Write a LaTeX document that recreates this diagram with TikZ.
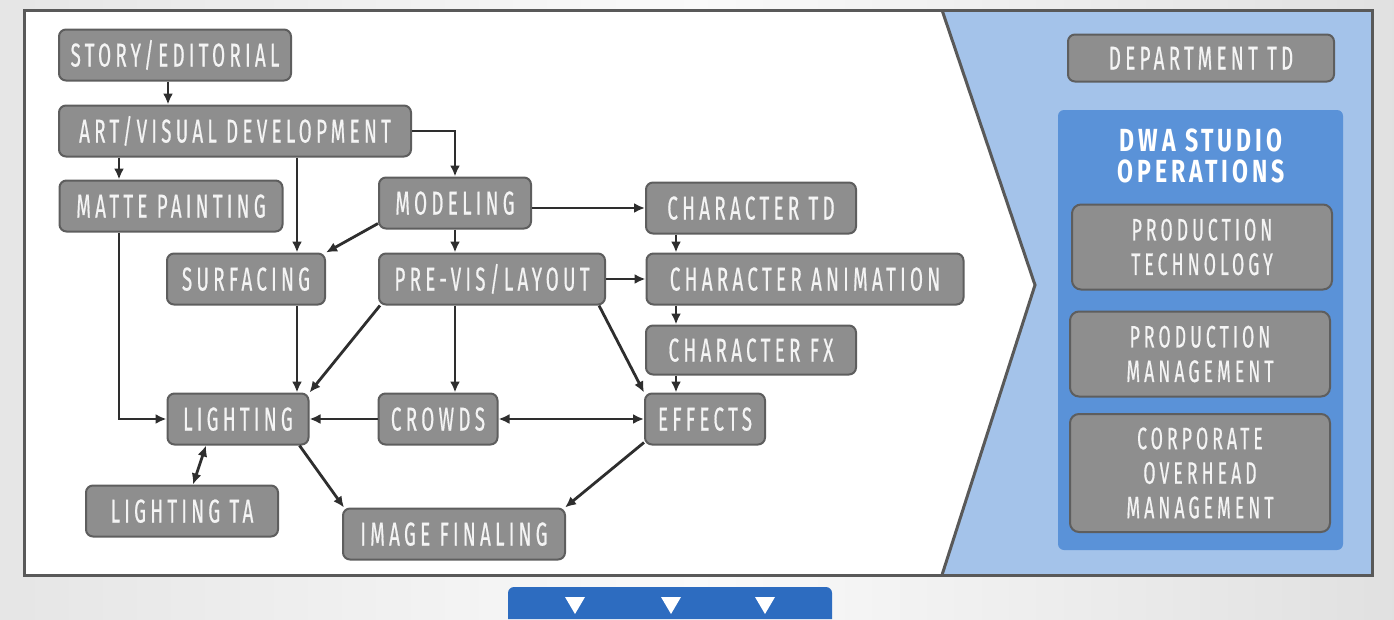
\documentclass[tikz,border=0pt]{standalone}
\usepackage{fontspec}
\setmainfont{Fira Sans}
\newfontfamily\boxfont{Fira Sans}[FakeStretch=0.57, LetterSpace=13, FakeBold=0.5]
\newfontfamily\headfont{Fira Sans Bold}[FakeStretch=0.72, LetterSpace=12]
\usetikzlibrary{arrows.meta}
\definecolor{boxfill}{HTML}{8E8E8E}
\definecolor{boxline}{HTML}{5E5E5E}
\definecolor{boxtext}{HTML}{F4F4F4}
\definecolor{conncol}{HTML}{2E2E2E}
\definecolor{panelline}{HTML}{595959}
\definecolor{lightblue}{HTML}{A4C3EA}
\definecolor{midblue}{HTML}{5A92D8}
\definecolor{tabblue}{HTML}{2D6CC0}
\tikzset{
  gbox/.style={draw=boxline, fill=boxfill, line width=2pt, rounded corners=7pt,
    text=boxtext, font=\boxfont\fontsize{33}{38}\selectfont, inner sep=0pt,
    minimum height=51pt, text height=23pt, text depth=0pt},
  mbox/.style={draw=boxline, fill=boxfill, line width=2pt, rounded corners=9pt,
    text=boxtext, font=\boxfont\fontsize{31}{34.5}\selectfont, inner sep=0pt, align=center},
  conn/.style={draw=conncol, line width=2.8pt, -{Latex[length=11pt,width=10pt]}},
  dconn/.style={draw=conncol, line width=2.8pt, {Latex[length=11pt,width=10pt]}-{Latex[length=11pt,width=10pt]}},
  tri/.style={fill=white}
}
\begin{document}
\begin{tikzpicture}[x=1pt,y=-1pt]
\useasboundingbox (0,0) rectangle (1394,619);
\shade[left color=black!10, right color=black!12, middle color=black!2] (0,0) rectangle (1394,619);
% main panel
\fill[white] (24,10) rectangle (1372,575);
\fill[lightblue] (942,10) -- (1035,285) -- (942,575) -- (1372,575) -- (1372,10) -- cycle;
\draw[panelline, line width=3pt] (942,10) -- (1035,285) -- (942,575);
\draw[panelline, line width=3pt] (24,10) rectangle (1372,575);

% right side
\fill[midblue, rounded corners=6pt] (1058,110) rectangle (1343,550);
\node[gbox, minimum width=266pt, minimum height=47pt] (depttd) at (1201,58) {DEPARTMENT TD};
\node[text=white, font=\headfont\fontsize{32}{31}\selectfont, align=center, inner sep=0pt] (dwa) at (1201,156) {DWA STUDIO\\OPERATIONS};
\node[mbox, minimum width=260pt, minimum height=85pt] (prodtech) at (1202,247) {PRODUCTION\\TECHNOLOGY};
\node[mbox, minimum width=260pt, minimum height=85pt] (prodmgmt) at (1200,354) {PRODUCTION\\MANAGEMENT};
\node[mbox, minimum width=260pt, minimum height=118pt] (corp) at (1200,473) {CORPORATE\\OVERHEAD\\MANAGEMENT};

% left boxes
\node[gbox, minimum width=232pt] (story) at (175,55) {STORY/EDITORIAL};
\node[gbox, minimum width=352pt] (art) at (235,131) {ART/VISUAL DEVELOPMENT};
\node[gbox, minimum width=223pt] (matte) at (171,206) {MATTE PAINTING};
\node[gbox, minimum width=152pt] (model) at (455,203) {MODELING};
\node[gbox, minimum width=210pt] (chartd) at (751,208) {CHARACTER TD};
\node[gbox, minimum width=158pt] (surf) at (246,279) {SURFACING};
\node[gbox, minimum width=226pt] (previs) at (492,279) {PRE-VIS/LAYOUT};
\node[gbox, minimum width=317pt] (charanim) at (805,279) {CHARACTER ANIMATION};
\node[gbox, minimum width=210pt, minimum height=49pt] (charfx) at (751,350) {CHARACTER FX};
\node[gbox, minimum width=141pt] (light) at (238,419) {LIGHTING};
\node[gbox, minimum width=119pt] (crowds) at (438,419) {CROWDS};
\node[gbox, minimum width=120pt] (effects) at (705,419) {EFFECTS};
\node[gbox, minimum width=192pt] (lightta) at (182,511) {LIGHTING TA};
\node[gbox, minimum width=222pt] (imgfin) at (454,534) {IMAGE FINALING};

% x positions of vertical connectors
\coordinate (xa) at (168,0);
\coordinate (xb) at (119,0);
\coordinate (xc) at (297,0);
\coordinate (xd) at (676,0);
\coordinate (xe) at (206,0);
\coordinate (xf) at (193,0);

% connectors
\draw[conn] (story.south -| xa) -- (art.north -| xa);
\draw[conn] (art.south -| xb) -- (matte.north -| xb);
\draw[conn] (art.south -| xc) -- (surf.north -| xc);
\draw[conn] (art.east) -| (model.north);
\draw[conn] ([yshift=6pt]model.south west) -- (surf.north east);
\draw[conn] (model.south) -- (previs.north -| model.south);
\draw[conn] (model.east |- chartd.west) -- (chartd.west);
\draw[conn] (chartd.south -| xd) -- (charanim.north -| xd);
\draw[conn] (previs.east) -- (charanim.west);
\draw[conn] (charanim.south -| xd) -- (charfx.north -| xd);
\draw[conn] (charfx.south -| xd) -- (effects.north -| xd);
\draw[conn] ([xshift=-7pt]previs.south east) -- (effects.north west);
\draw[conn] (previs.south -| model.south) -- (crowds.north -| model.south);
\draw[conn] ([xshift=2pt]previs.south west) -- (light.north east);
\draw[conn] (surf.south -| xc) -- (light.north -| xc);
\draw[conn] (matte.south -| xb) |- (light.west);
\draw[conn] (crowds.west) -- (light.east);
\draw[dconn] (crowds.east) -- (effects.west);
\draw[dconn] (light.south -| xe) -- (lightta.north -| xf);
\draw[conn] ([xshift=-10pt]light.south east) -- ([xshift=2pt]imgfin.north west);
\draw[conn] ([yshift=3pt]effects.south west) -- ([xshift=-1pt]imgfin.north east);

% bottom tab
\fill[tabblue] (508,619) [rounded corners=6pt] -- (508,587) -- (832,587) [sharp corners] -- (832,619) -- cycle;
\fill[tri] (565,597) -- (585,597) -- (575,614) -- cycle;
\fill[tri] (661,597) -- (681,597) -- (671,614) -- cycle;
\fill[tri] (755,597) -- (775,597) -- (765,614) -- cycle;
\end{tikzpicture}
\end{document}
